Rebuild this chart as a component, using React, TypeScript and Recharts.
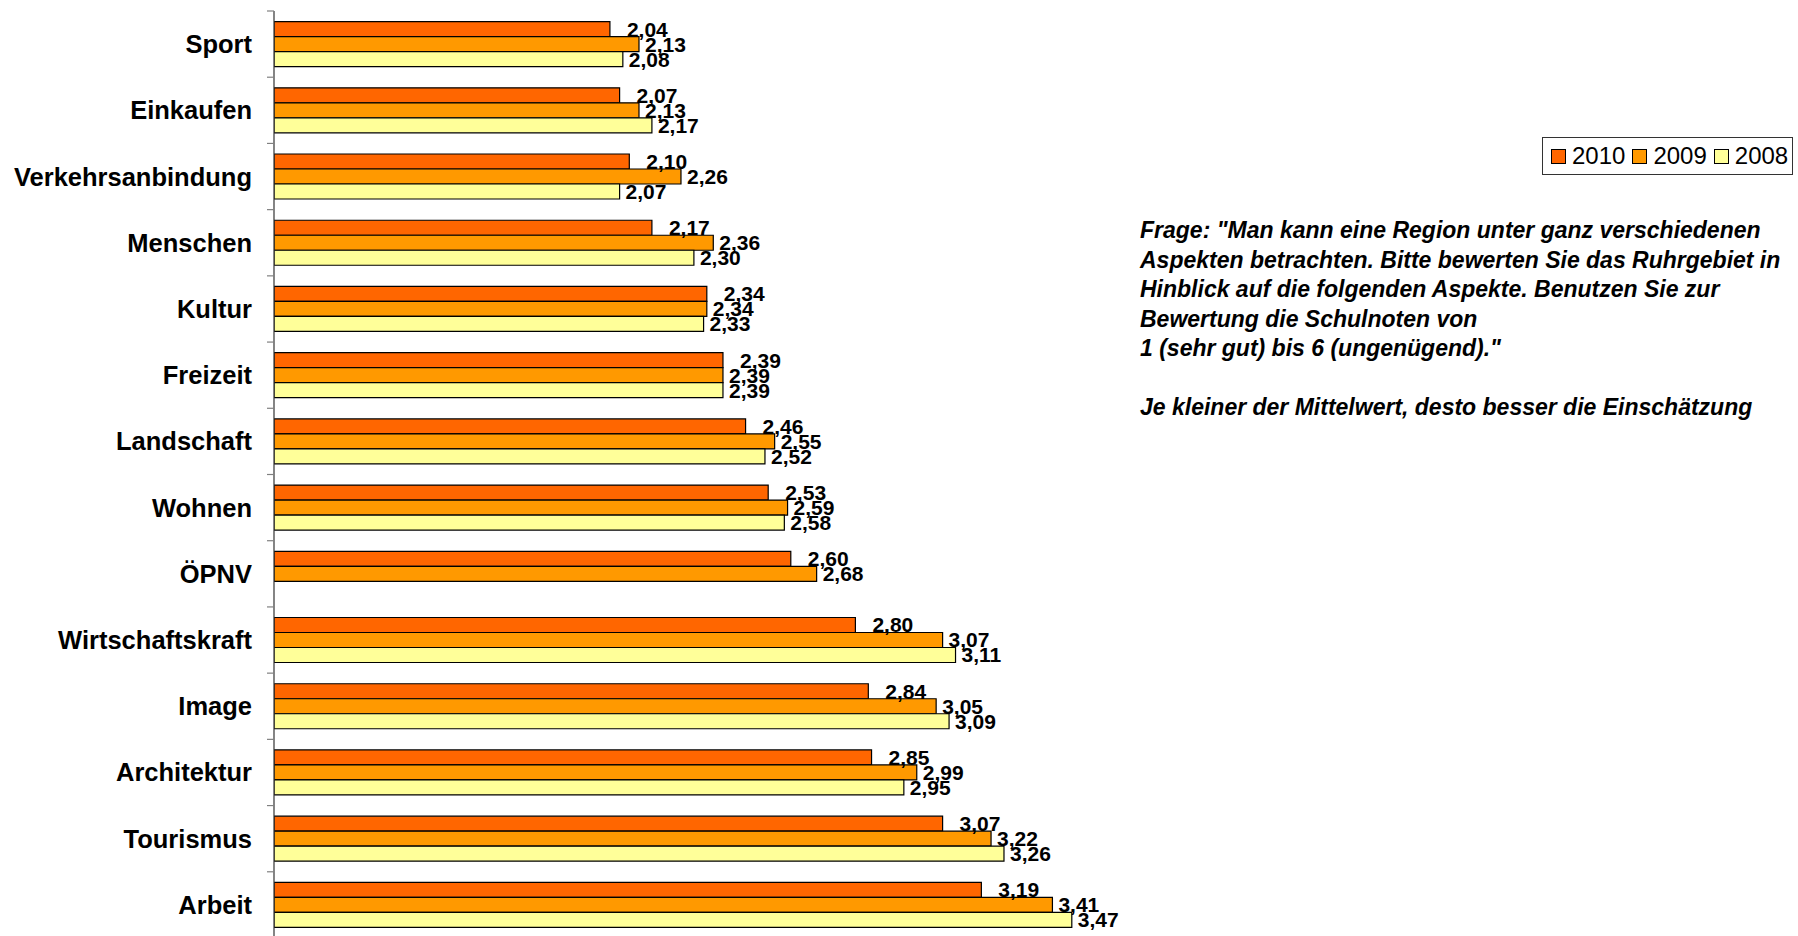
import { BarChart, Bar, XAxis, YAxis, Legend, LabelList } from "recharts";

const categories = [
  "Sport",
  "Einkaufen",
  "Verkehrsanbindung",
  "Menschen",
  "Kultur",
  "Freizeit",
  "Landschaft",
  "Wohnen",
  "ÖPNV",
  "Wirtschaftskraft",
  "Image",
  "Architektur",
  "Tourismus",
  "Arbeit",
];

const values2010 = [2.04, 2.07, 2.1, 2.17, 2.34, 2.39, 2.46, 2.53, 2.6, 2.8, 2.84, 2.85, 3.07, 3.19];
const values2009 = [2.13, 2.13, 2.26, 2.36, 2.34, 2.39, 2.55, 2.59, 2.68, 3.07, 3.05, 2.99, 3.22, 3.41];
const values2008 = [2.08, 2.17, 2.07, 2.3, 2.33, 2.39, 2.52, 2.58, null, 3.11, 3.09, 2.95, 3.26, 3.47];

const seriesNames = ["2010", "2009", "2008"];
const seriesColors = ["#FF6600", "#FF9900", "#FFFF99"];

const questionLines = [
  'Frage: "Man kann eine Region unter ganz verschiedenen',
  "Aspekten betrachten. Bitte bewerten Sie das Ruhrgebiet in",
  "Hinblick auf die folgenden Aspekte. Benutzen Sie zur",
  "Bewertung die Schulnoten von",
  '1 (sehr gut) bis 6 (ungenügend)."',
  "",
  "Je kleiner der Mittelwert, desto besser die Einschätzung",
];

const data = categories.map((name, i) => ({
  name,
  y2010: values2010[i],
  y2009: values2009[i],
  y2008: values2008[i],
}));

const FONT = '"Liberation Sans", Arial, sans-serif';
const CHART_W = 1798;
const CHART_H = 950;
const MARGIN = { top: 11, right: 555, bottom: 12, left: 0 };
const AXIS_W = 274;
const TICK_SIZE = 7;
const TICK_MARGIN = 15;
const BAND = (CHART_H - MARGIN.top - MARGIN.bottom) / categories.length;

const fmt = (v: any) => (v == null ? "" : Number(v).toFixed(2).replace(".", ","));

const CategoryTick = (props: any) => {
  const { x, y, payload } = props;
  const axisX = x + TICK_MARGIN + TICK_SIZE;
  const half = BAND / 2;
  const last = payload.value === categories[categories.length - 1];
  return (
    <g>
      <line x1={axisX - TICK_SIZE} x2={axisX} y1={y - half} y2={y - half} stroke="#808080" strokeWidth={1.2} />
      {last && (
        <line x1={axisX - TICK_SIZE} x2={axisX} y1={y + half} y2={y + half} stroke="#808080" strokeWidth={1.2} />
      )}
      <text
        x={x}
        y={y}
        textAnchor="end"
        dominantBaseline="central"
        fontFamily={FONT}
        fontWeight="bold"
        fontSize={25.5}
        fill="#000"
      >
        {payload.value}
      </text>
    </g>
  );
};

const LegendBox = () => (
  <div
    style={{
      display: "flex",
      alignItems: "center",
      border: "1px solid #333",
      background: "#fff",
      height: 38,
      padding: "0 6px 0 8px",
      fontFamily: FONT,
      fontSize: 24,
      color: "#000",
      boxSizing: "border-box",
    }}
  >
    {seriesNames.map((name, i) => (
      <span key={name} style={{ display: "flex", alignItems: "center", marginRight: i < 2 ? 7 : 0 }}>
        <span
          style={{
            width: 13,
            height: 13,
            background: seriesColors[i],
            border: "1px solid #000",
            marginRight: 6,
            display: "inline-block",
          }}
        />
        {name}
      </span>
    ))}
  </div>
);

export default function App() {
  return (
    <div
      style={{
        position: "absolute",
        left: 0,
        top: 0,
        width: 1798,
        height: 936,
        overflow: "hidden",
        background: "#fff",
      }}
    >
      <BarChart
        width={CHART_W}
        height={CHART_H}
        data={data}
        layout="vertical"
        margin={MARGIN}
        barCategoryGap="16%"
        barGap={0}
      >
        <XAxis type="number" domain={[1, 4]} hide allowDataOverflow />
        <YAxis
          type="category"
          dataKey="name"
          width={AXIS_W}
          interval={0}
          tickLine={false}
          tickSize={TICK_SIZE}
          tickMargin={TICK_MARGIN}
          axisLine={{ stroke: "#333", strokeWidth: 1.2 }}
          tick={CategoryTick}
        />
        <Legend
          layout="horizontal"
          align="center"
          verticalAlign="middle"
          content={LegendBox}
          wrapperStyle={{ position: "absolute", left: 1542, top: 137, width: 251 }}
        />
        {["y2010", "y2009", "y2008"].map((key, i) => (
          <Bar
            key={key}
            dataKey={key}
            name={seriesNames[i]}
            fill={seriesColors[i]}
            stroke="#000"
            strokeWidth={1.2}
            isAnimationActive={false}
          >
            <LabelList
              dataKey={key}
              position="right"
              offset={i === 0 ? 17 : 6}
              formatter={fmt}
              fill="#000"
              fontFamily={FONT}
              fontWeight="bold"
              fontSize={21}
            />
          </Bar>
        ))}
      </BarChart>
      <div
        style={{
          position: "absolute",
          left: 1140,
          top: 216,
          fontFamily: FONT,
          fontWeight: "bold",
          fontStyle: "italic",
          fontSize: 23,
          lineHeight: "29.5px",
          color: "#000",
          whiteSpace: "pre",
        }}
      >
        {questionLines.map((line, i) => (
          <div key={i} style={{ height: 29.5 }}>
            {line}
          </div>
        ))}
      </div>
    </div>
  );
}
